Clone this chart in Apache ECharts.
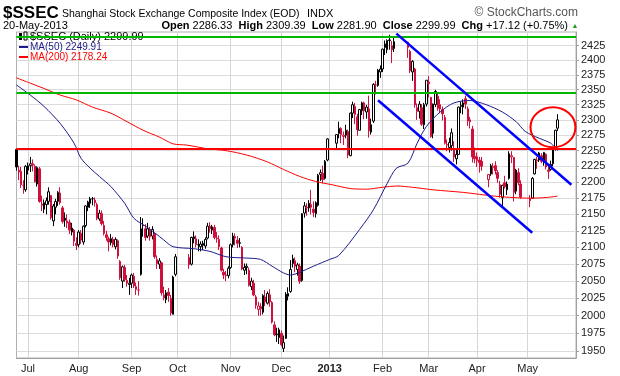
<!DOCTYPE html>
<html>
<head>
<meta charset="utf-8">
<title>$SSEC</title>
<script src="https://cdn.jsdelivr.net/npm/echarts@6.0.0/dist/echarts.min.js"></script>
<style>
    html, body { margin: 0; padding: 0; background: #fff; }
    #SSEC { width: 620px; height: 376px; }
</style>
</head>
<body>
<div id="SSEC"></div>
<script>
// daily bars in trading order: [open, high, low, close]
var ohlc = [
    // Jun 2012
    [2252,2253,2218,2224],[2219,2226,2203,2216],[2217,2224,2191,2196],[2195,2203,2182,2195],[2188,2227,2185,2225],
    // Jul
    [2219,2231,2212,2226],[2226,2240,2216,2229],[2229,2236,2217,2227],[2225,2228,2199,2201],[2197,2225,2193,2223],
    [2221,2224,2168,2170],[2166,2179,2155,2164],[2158,2173,2152,2168],[2165,2176,2150,2171],[2170,2192,2165,2185],
    [2179,2180,2142,2145],[2140,2166,2132,2163],[2161,2174,2150,2170],[2170,2186,2163,2184],[2183,2192,2165,2168],
    [2160,2163,2136,2139],[2144,2153,2131,2141],[2140,2150,2129,2137],[2138,2142,2120,2126],[2123,2137,2118,2129],
    [2126,2128,2102,2109],[2106,2115,2096,2103],
    // Aug
    [2104,2126,2100,2123],[2121,2126,2105,2111],[2108,2133,2104,2132],[2133,2164,2130,2163],[2161,2171,2155,2169],
    [2167,2177,2160,2174],[2174,2177,2164,2174],[2172,2176,2162,2168],[2165,2168,2141,2144],[2143,2157,2140,2152],
    [2151,2156,2133,2136],[2133,2140,2118,2121],[2119,2125,2110,2115],[2113,2116,2094,2108],[2107,2120,2103,2113],
    [2112,2116,2100,2104],[2101,2115,2097,2112],[2110,2112,2083,2087],[2079,2081,2052,2055],[2050,2073,2040,2071],
    [2070,2074,2049,2052],[2051,2059,2042,2047],[2045,2055,2030,2047],
    // Sep
    [2047,2061,2040,2059],[2057,2062,2040,2043],[2042,2048,2030,2038],[2037,2050,2029,2037],[2060,2146,2058,2128],
    [2133,2144,2116,2133],[2128,2135,2110,2115],[2117,2137,2114,2128],[2126,2131,2110,2116],[2117,2132,2112,2127],
    [2120,2122,2083,2086],[2082,2088,2068,2076],[2075,2084,2068,2080],[2077,2078,2029,2033],[2030,2042,2022,2026],
    [2023,2037,2018,2033],[2034,2040,2020,2029],[2025,2030,2000,2004],[2002,2058,2002,2056],[2060,2090,2057,2086],
    // Oct
    [2085,2090,2068,2074],[2075,2116,2073,2115],[2113,2124,2106,2116],[2113,2118,2100,2104],[2104,2112,2094,2104],
    [2101,2109,2094,2105],[2103,2110,2096,2106],[2102,2115,2098,2112],[2114,2137,2112,2132],[2132,2138,2122,2128],
    [2126,2134,2120,2131],[2130,2134,2112,2115],[2113,2123,2107,2114],[2112,2118,2096,2101],[2099,2101,2064,2066],
    [2063,2068,2053,2059],[2059,2065,2050,2058],[2058,2072,2054,2069],
    // Nov
    [2070,2106,2068,2104],[2104,2122,2100,2117],[2116,2121,2103,2114],[2111,2117,2099,2106],[2106,2114,2100,2107],
    [2100,2102,2066,2068],[2066,2076,2059,2070],[2070,2076,2060,2072],[2066,2070,2042,2044],[2042,2055,2037,2050],
    [2047,2052,2028,2030],[2027,2030,2010,2015],[2009,2020,2000,2014],[2013,2018,2000,2010],[2005,2031,2002,2029],
    [2027,2037,2014,2020],[2018,2035,2016,2032],[2030,2038,2013,2020],[2019,2021,1989,1991],[1987,1992,1971,1973],
    [1973,1983,1963,1974],[1969,1983,1960,1980],
    // Dec
    [1975,1979,1957,1959],[1954,1972,1949,1962],[1968,2034,1967,2031],[2028,2041,2022,2032],[2035,2081,2033,2067],
    [2076,2089,2070,2083],[2080,2085,2063,2072],[2067,2077,2058,2074],[2072,2076,2046,2050],[2051,2152,2049,2151],
    [2152,2169,2145,2163],[2160,2167,2148,2161],[2160,2172,2154,2167],[2165,2188,2150,2161],[2158,2170,2146,2153],
    [2151,2170,2145,2168],[2164,2213,2162,2211],[2212,2220,2202,2215],[2214,2226,2198,2204],[2206,2235,2204,2233],
    [2235,2270,2233,2269],
    // Jan 2013
    [2262,2276,2251,2276],[2278,2297,2270,2286],[2286,2288,2262,2276],[2273,2281,2259,2275],[2275,2292,2270,2283],
    [2281,2284,2238,2243],[2242,2312,2241,2311],[2311,2330,2303,2325],[2322,2328,2293,2309],[2305,2310,2274,2284],
    [2283,2318,2283,2317],[2315,2330,2308,2328],[2328,2330,2301,2315],[2313,2325,2302,2321],[2318,2340,2271,2282],
    [2280,2302,2276,2292],[2298,2361,2295,2359],[2358,2365,2342,2358],[2357,2385,2355,2383],[2380,2391,2370,2385],
    // Feb
    [2385,2420,2380,2419],[2422,2434,2409,2428],[2418,2436,2412,2434],[2435,2444,2418,2434],[2425,2433,2395,2418],
    [2420,2440,2414,2432],
    [2431,2432,2404,2422],[2415,2418,2378,2382],[2380,2400,2365,2398],[2385,2387,2320,2325],[2320,2327,2300,2314],
    [2314,2331,2302,2326],[2320,2326,2290,2293],[2292,2328,2285,2325],[2326,2366,2322,2366],
    // Mar
    [2363,2373,2337,2360],[2337,2338,2271,2273],[2278,2327,2270,2326],[2325,2350,2321,2347],[2339,2346,2315,2319],
    [2325,2334,2311,2318],[2317,2322,2299,2310],[2304,2308,2260,2262],[2260,2268,2249,2259],[2255,2271,2247,2263],
    [2258,2286,2250,2279],[2253,2265,2232,2240],[2237,2251,2228,2244],[2244,2322,2243,2321],[2322,2330,2311,2324],
    [2321,2334,2309,2328],[2335,2340,2318,2326],[2318,2322,2290,2298],[2300,2305,2286,2297],[2285,2290,2231,2240],
    [2241,2255,2230,2237],
    // Apr
    [2240,2247,2224,2234],[2235,2240,2215,2231],[2233,2240,2218,2225],
    [2204,2213,2192,2212],[2213,2229,2210,2226],[2223,2230,2212,2225],[2226,2233,2212,2218],[2215,2219,2199,2206],
    [2196,2202,2176,2181],[2176,2196,2162,2195],[2199,2210,2190,2193],[2188,2201,2180,2197],[2206,2249,2204,2245],
    [2240,2249,2230,2242],[2239,2240,2170,2184],[2186,2221,2181,2219],[2215,2222,2195,2199],[2197,2203,2174,2177],
    // May
    [2171,2180,2161,2174],[2175,2208,2174,2206],[2213,2237,2212,2236],[2234,2240,2221,2235],[2235,2248,2232,2246],
    [2242,2246,2230,2233],[2233,2248,2226,2247],[2244,2246,2220,2224],[2219,2226,2205,2217],[2220,2234,2218,2228],
    [2229,2255,2225,2253],[2253,2284,2250,2283],[2286.33,2309.39,2281.90,2299.99]
];

var firstDay = '2012-06-25';
var lastDay = '2013-05-30';
var holidays = ['2012-10-01','2012-10-02','2012-10-03','2012-10-04','2012-10-05',
    '2013-01-01','2013-01-02','2013-01-03','2013-02-11','2013-02-12','2013-02-13','2013-02-14','2013-02-15',
    '2013-04-04','2013-04-05','2013-04-29','2013-04-30','2013-05-01'];
var closeBefore = 2220;

// moving averages
var ma50 = [
    ['2012-06-25',2358],['2012-07-03',2341],['2012-07-11',2322],['2012-07-20',2294],['2012-07-30',2262],
    ['2012-08-02',2238],['2012-08-08',2222],['2012-08-14',2209],['2012-08-21',2193],['2012-08-29',2167],
    ['2012-09-04',2144],['2012-09-11',2132],['2012-09-17',2122],['2012-09-21',2111],['2012-09-27',2101],
    ['2012-10-10',2098],['2012-10-19',2094],['2012-10-30',2086],['2012-11-12',2084],['2012-11-20',2082],
    ['2012-11-27',2072],['2012-12-04',2062],['2012-12-07',2059],['2012-12-13',2063],['2012-12-21',2072],
    ['2013-01-01',2082],['2013-01-07',2088],['2013-01-18',2127],['2013-01-28',2157],['2013-02-05',2198],
    ['2013-02-11',2222],['2013-02-18',2230],['2013-02-22',2262],['2013-02-28',2289],['2013-03-08',2313],
    ['2013-03-18',2328],['2013-03-27',2332],['2013-04-05',2325],['2013-04-16',2313],['2013-04-24',2297],
    ['2013-04-30',2281],['2013-05-08',2270],['2013-05-15',2262],['2013-05-20',2249.91]
];
var ma200 = [
    ['2012-06-25',2370],['2012-07-03',2361],['2012-07-11',2352],['2012-07-20',2341],['2012-07-31',2333],
    ['2012-08-09',2321],['2012-08-21',2311],['2012-08-30',2297],['2012-09-10',2283],['2012-09-19',2272],
    ['2012-09-27',2261],['2012-10-05',2259],['2012-10-18',2253],['2012-10-30',2250],['2012-11-12',2243],
    ['2012-11-23',2232],['2012-12-04',2220],['2012-12-13',2209],['2012-12-24',2201],['2013-01-02',2196],
    ['2013-01-14',2190],['2013-01-23',2189],['2013-02-01',2192],['2013-02-11',2194],['2013-02-20',2192],
    ['2013-03-05',2188],['2013-03-22',2184],['2013-04-11',2178],['2013-04-23',2176],['2013-05-02',2175],
    ['2013-05-13',2176],['2013-05-20',2178.24]
];

// hand-drawn annotations
var greenLevels = [2442, 2342];
var redLevel = 2251;
var channelUpper = [['2013-02-11', 2446], ['2013-05-28', 2196]];
var channelLower = [['2013-01-30', 2332.5], ['2013-05-03', 2122]];
var circleMark = [['2013-05-16', 2288]];

var yTicks = [1950,1975,2000,2025,2050,2075,2100,2125,2150,2175,2200,2225,2250,2275,2300,2325,2350,2375,2400,2425];
var monthNames = ['Jan','Feb','Mar','Apr','May','Jun','Jul','Aug','Sep','Oct','Nov','Dec'];
var quote = {date: '20-May-2013', open: '2286.33', high: '2309.39', low: '2281.90', close: '2299.99', chg: '+17.12 (+0.75%)'};
var ma50Last = '2249.91', ma200Last = '2178.24';

var FONT = '"Liberation Sans", Arial, sans-serif';
var RED_BAR = '#d0103c';

function weekdays(from, to) {
    var list = [];
    var d = new Date(from + 'T00:00:00Z');
    var end = new Date(to + 'T00:00:00Z');
    while (d <= end) {
        var wd = d.getUTCDay();
        if (wd > 0 && wd < 6) list.push(d.toISOString().slice(0, 10));
        d.setUTCDate(d.getUTCDate() + 1);
    }
    return list;
}

var dates = weekdays(firstDay, lastDay);

//candles: black = up on prior close, red = down; hollow when close > open
var candles = [];
var k = 0, prev = closeBefore;
dates.forEach(function (day) {
    if (holidays.indexOf(day) >= 0 || k >= ohlc.length) {
        candles.push('-');
        return;
    }
    var r = ohlc[k++];
    var stroke = r[3] >= prev ? '#000' : RED_BAR;
    var fill = r[3] > r[0] ? '#fff' : stroke;
    candles.push({
        value: [Math.log(r[0]), Math.log(r[3]), Math.log(r[2]), Math.log(r[1])],
        itemStyle: {color: fill, color0: fill, borderColor: stroke, borderColor0: stroke, borderColorDoji: stroke}
    });
    prev = r[3];
});

function toLog(list) {
    return list.map(function (p) { return [p[0], Math.log(p[1])]; });
}

function monthStart(index) {
    if (index === 0) return false;
    return dates[index].slice(5, 7) !== dates[index - 1].slice(5, 7);
}

function drawSSEC() {
    var dom = document.getElementById("SSEC");
    var myChart = echarts.init(dom, null, {renderer: 'canvas'});
    var option = null;

    var logTicks = yTicks.map(Math.log);

    option = {
        animation: false,
        backgroundColor: '#fff',
        textStyle: {fontFamily: FONT},
        grid: {left: 16.5, right: 44, top: 32, bottom: 18, show: true, borderColor: '#b0b0b0', borderWidth: 1},
        xAxis: {
            type: 'category',
            data: dates,
            boundaryGap: false,
            axisLine: {show: true, lineStyle: {color: '#a0a0a0'}},
            axisTick: {show: false},
            axisLabel: {
                interval: monthStart,
                color: '#222',
                fontSize: 11,
                fontFamily: FONT,
                margin: 5,
                formatter: function (value) {
                    var m = +value.slice(5, 7);
                    return m === 1 ? '{y|' + value.slice(0, 4) + '}' : monthNames[m - 1];
                },
                rich: {y: {fontWeight: 'bold', fontSize: 11, fontFamily: FONT, color: '#222'}}
            },
            splitLine: {show: true, interval: monthStart, lineStyle: {color: '#d6d6d6', width: 1}}
        },
        yAxis: {
            type: 'value',
            position: 'right',
            min: Math.log(1940.6),
            max: Math.log(2448.8),
            axisLine: {show: true, lineStyle: {color: '#a0a0a0'}},
            axisTick: {show: true, length: 3, customValues: logTicks, lineStyle: {color: '#a0a0a0'}},
            axisLabel: {
                customValues: logTicks,
                color: '#222',
                fontSize: 11,
                fontFamily: FONT,
                margin: 5,
                formatter: function (v) { return String(Math.round(Math.exp(v))); }
            },
            splitLine: {show: true, lineStyle: {color: '#dcdcdc', width: 1}}
        },
        series: [
            {
                name: '$SSEC',
                type: 'candlestick',
                data: candles,
                barWidth: 2,
                z: 2,
                itemStyle: {borderWidth: 1}
            },
            {
                name: 'MA(200)',
                type: 'line',
                data: toLog(ma200),
                smooth: 0.3,
                showSymbol: false,
                z: 3,
                lineStyle: {color: '#ff0000', width: 1},
                markLine: {
                    silent: true,
                    symbol: 'none',
                    label: {show: false},
                    data: [
                        {yAxis: Math.log(greenLevels[0]), lineStyle: {color: '#00b800', width: 2, type: 'solid'}},
                        {yAxis: Math.log(greenLevels[1]), lineStyle: {color: '#00b800', width: 2, type: 'solid'}},
                        {yAxis: Math.log(redLevel), lineStyle: {color: '#ff0000', width: 2, type: 'solid'}}
                    ]
                }
            },
            {
                name: 'MA(50)',
                type: 'line',
                data: toLog(ma50),
                smooth: 0.3,
                showSymbol: false,
                z: 3,
                lineStyle: {color: '#1c1c8c', width: 1}
            },
            {
                type: 'line',
                data: toLog(channelUpper),
                showSymbol: false,
                z: 5,
                lineStyle: {color: '#0000ff', width: 2.5}
            },
            {
                type: 'line',
                data: toLog(channelLower),
                showSymbol: false,
                z: 5,
                lineStyle: {color: '#0000ff', width: 2.5}
            },
            {
                type: 'scatter',
                data: toLog(circleMark),
                symbol: 'circle',
                symbolSize: [45, 40],
                z: 6,
                itemStyle: {color: 'rgba(0,0,0,0)', borderColor: '#ff0000', borderWidth: 2, opacity: 1}
            }
        ],
        graphic: [
            {type: 'text', x: 3, y: 13, style: {text: '$SSEC', fontSize: 17, fontWeight: 'bold', fontFamily: FONT, fill: '#000', verticalAlign: 'middle'}},
            {type: 'text', x: 62, y: 14, style: {text: 'Shanghai Stock Exchange Composite Index (EOD)', fontSize: 10.5, fontFamily: FONT, fill: '#000', verticalAlign: 'middle'}},
            {type: 'text', x: 307, y: 14, style: {text: 'INDX', fontSize: 11, fontFamily: FONT, fill: '#000', verticalAlign: 'middle'}},
            {type: 'text', x: 578, y: 13, style: {text: '\u00a9 StockCharts.com', fontSize: 12, fontFamily: FONT, fill: '#555', align: 'right', verticalAlign: 'middle'}},
            {type: 'text', x: 3, y: 26, style: {text: quote.date, fontSize: 11, fontFamily: FONT, fill: '#000', verticalAlign: 'middle'}},
            {type: 'text', x: 568, y: 26, style: {
                text: '{b|Open} ' + quote.open + '  {b|High} ' + quote.high + '  {b|Low} ' + quote.low +
                      '  {b|Close} ' + quote.close + '  {b|Chg} ' + quote.chg,
                fontSize: 11, fontFamily: FONT, fill: '#000', align: 'right', verticalAlign: 'middle',
                rich: {b: {fontWeight: 'bold', fontSize: 11, fontFamily: FONT, fill: '#000'}}
            }},
            {type: 'text', x: 575, y: 26, style: {text: '\u25b2', fontSize: 7, fontFamily: FONT, fill: '#1a9a1a', align: 'center', verticalAlign: 'middle'}},
            // legend inside the plot
            {type: 'rect', z: 1, shape: {x: 19, y: 33, width: 3, height: 7}, style: {fill: '#000'}},
            {type: 'rect', z: 1, shape: {x: 24, y: 32, width: 3, height: 8}, style: {fill: '#fff', stroke: '#000', lineWidth: 1}},
            {type: 'text', z: 1, x: 30, y: 37, style: {text: '$SSEC (Daily) ' + quote.close, fontSize: 11, fontFamily: FONT, fill: '#000', verticalAlign: 'middle'}},
            {type: 'line', z: 1, shape: {x1: 19, y1: 47, x2: 28, y2: 47}, style: {stroke: '#1c1c8c', lineWidth: 2}},
            {type: 'text', z: 1, x: 30, y: 47, style: {text: 'MA(50) ' + ma50Last, fontSize: 10, fontFamily: FONT, fill: '#1c1c8c', verticalAlign: 'middle'}},
            {type: 'line', z: 1, shape: {x1: 19, y1: 57, x2: 28, y2: 57}, style: {stroke: '#ff0000', lineWidth: 2}},
            {type: 'text', z: 1, x: 30, y: 57, style: {text: 'MA(200) ' + ma200Last, fontSize: 10, fontFamily: FONT, fill: '#ff0000', verticalAlign: 'middle'}}
        ]
    };

    if (option && typeof option === "object") {
        myChart.setOption(option, true);
    }
}

drawSSEC();
</script>
</body>
</html>
